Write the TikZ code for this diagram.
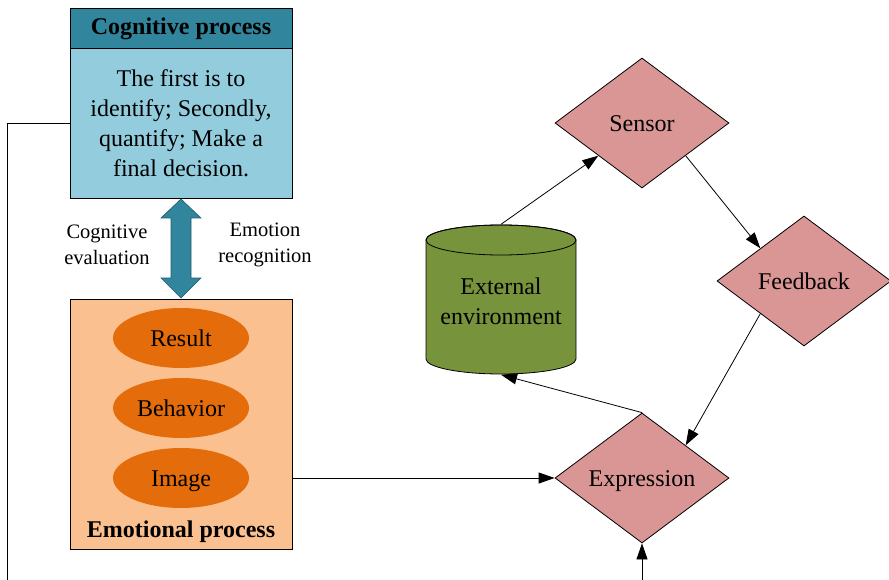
\documentclass[tikz,border=0pt]{standalone}
\usepackage{fontspec}
\setmainfont{Liberation Serif}
\usetikzlibrary{shapes.geometric,arrows.meta}
\definecolor{tealh}{HTML}{31859C}
\definecolor{lblue}{HTML}{93CDDD}
\definecolor{lorange}{HTML}{FAC090}
\definecolor{dorange}{HTML}{E46C0A}
\definecolor{dpink}{HTML}{D99694}
\definecolor{olive}{HTML}{77933C}
\begin{document}
\begin{tikzpicture}[x=1pt,y=-1pt,
  txt/.style={font=\fontsize{24}{30}\selectfont},
  onel/.style={text height=19pt, text depth=2pt},
  smalltxt/.style={font=\fontsize{20.5}{26}\selectfont, align=center},
  boxstyle/.style={draw=black, line width=0.8pt, minimum width=222pt, inner sep=0pt},
  oval/.style={ellipse, fill=dorange, minimum width=136pt, minimum height=60pt, inner sep=0pt, txt, onel},
  dia/.style={diamond, aspect=1.34, draw=black, line width=0.8pt, fill=dpink, minimum width=174pt, minimum height=130pt, inner sep=0pt, txt, onel},
  arr/.style={-{Triangle[length=16pt,width=11pt]}, line width=0.8pt},
  conn/.style={line width=0.8pt}]
\useasboundingbox (0,0) rectangle (889,580);

% Cognitive process
\node[boxstyle, fill=tealh, minimum height=40pt, text height=17pt, text depth=3pt, font=\fontsize{24}{30}\selectfont\bfseries] (head) at (181,28) {Cognitive process};
\node[boxstyle, fill=lblue, minimum height=150pt, align=center, txt] (cog) at (181,123) {The first is to\\identify; Secondly,\\quantify; Make a\\final decision.};

% Emotional process
\node[boxstyle, fill=lorange, minimum height=250pt] (emo) at (181,424) {};
\node[oval] (res) at (181,338) {Result};
\node[oval] (beh) at (181,408) {Behavior};
\node[oval] (img) at (181,478) {Image};
\node[text height=17pt, text depth=3pt, font=\fontsize{24}{30}\selectfont\bfseries] (emolab) at (181,530) {Emotional process};

% double arrow
\filldraw[fill=tealh, draw=tealh!70!black, line width=0.6pt]
  (181,199) -- (201,218) -- (191,218) -- (191,278) -- (201,278) -- (181,298)
  -- (161,278) -- (171,278) -- (171,218) -- (161,218) -- cycle;
\node[smalltxt] (cev) at (107,245) {Cognitive\\evaluation};
\node[smalltxt] (erc) at (265,245) {Emotion\\recognition};

% cylinder
\filldraw[fill=olive, draw=black, line width=0.8pt]
  (426,240) -- (426,359) arc[start angle=180, end angle=360, x radius=75pt, y radius=15pt]
  -- (576,240) arc[start angle=0, end angle=180, x radius=75pt, y radius=15pt] -- cycle;
\draw[line width=0.8pt] (501,240) ellipse[x radius=75pt, y radius=15pt];
\node[minimum width=150pt, minimum height=150pt, inner sep=0pt] (env) at (501,299.5) {};
\node[txt, align=center] (envlab) at (501,301) {External\\environment};

% diamonds
\node[dia] (sensor) at (642,123) {Sensor};
\node[dia] (feed) at (804,281) {Feedback};
\node[dia] (expr) at (642,478) {Expression};

% connectors
\draw[arr] (env.north) -- (sensor.south west);
\draw[arr] (sensor.south east) -- (feed.north west);
\draw[arr] (feed.south west) -- (expr.north east);
\draw[arr] (expr.north) -- (env.south);
\draw[arr] (emo.east |- expr.west) -- (expr.west);

\coordinate (c1) at (7,582);
\coordinate (c2) at (642,582);
\draw[conn] (cog.west) -- (7,123) -- (c1);
\draw[arr] (c2) -- (expr.south);
\end{tikzpicture}
\end{document}
